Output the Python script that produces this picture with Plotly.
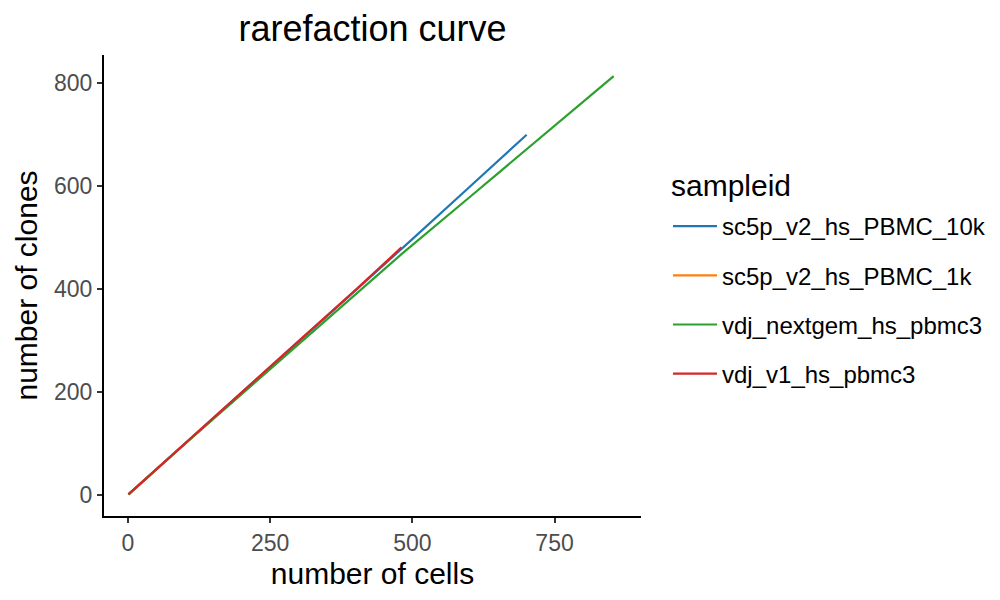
import plotly.graph_objects as go

samples = ["sc5p_v2_hs_PBMC_10k", "sc5p_v2_hs_PBMC_1k", "vdj_nextgem_hs_pbmc3", "vdj_v1_hs_pbmc3"]
colors = ["#1f77b4", "#ff7f0e", "#2ca02c", "#d62728"]

cells_10k = [1, 100, 200, 300, 400, 500, 600, 701]
clones_10k = [1, 100, 199, 298, 397, 497, 598, 700]

cells_1k = [1, 50, 100, 150]
clones_1k = [1, 50, 99, 148]

cells_nextgem = [1, 100, 200, 300, 400, 481, 600, 700, 800, 854]
clones_nextgem = [1, 99, 196, 293, 390, 468, 578, 671, 764, 814]

cells_v1 = [1, 100, 200, 300, 400, 481]
clones_v1 = [1, 100, 199, 299, 398, 481]

xs = [cells_10k, cells_1k, cells_nextgem, cells_v1]
ys = [clones_10k, clones_1k, clones_nextgem, clones_v1]

fig = go.Figure()
for name, c, x, y in zip(samples, colors, xs, ys):
    fig.add_trace(go.Scatter(x=x, y=y, mode="lines", name=name, legendgroup=name,
                             line=dict(color=c, width=2.2)))

font = "Liberation Sans, Arial, Helvetica, sans-serif"
fig.update_layout(
    width=1000, height=600,
    paper_bgcolor="white", plot_bgcolor="white",
    margin=dict(l=104, r=359, t=55, b=84, autoexpand=False),
    font=dict(family=font, color="black"),
    title=dict(text="rarefaction curve", x=(104 + 641) / 2 / 1000, xanchor="center",
               y=1 - 28 / 600, yanchor="middle", font=dict(size=36, color="black")),
    xaxis=dict(range=[-42, 902], tickvals=[0, 250, 500, 750], showgrid=False, zeroline=False,
               showline=True, linecolor="black", linewidth=2, ticks="outside", ticklen=5,
               tickcolor="#333333", tickwidth=1.5,
               tickfont=dict(size=23, color="#4d4d4d"),
               title=dict(text="number of cells", font=dict(size=30, color="black"), standoff=8)),
    yaxis=dict(range=[-41, 855], tickvals=[0, 200, 400, 600, 800], showgrid=False, zeroline=False,
               showline=True, linecolor="black", linewidth=2, ticks="outside", ticklen=5,
               tickcolor="#333333", tickwidth=1.5,
               tickfont=dict(size=23, color="#4d4d4d"),
               title=dict(text="number of clones", font=dict(size=30, color="black"), standoff=8)),
    legend=dict(x=(668 - 104) / 537, xanchor="left", y=(516 - 204) / 461, yanchor="top",
                font=dict(size=24, color="black"), tracegroupgap=15, itemwidth=44,
                bgcolor="rgba(0,0,0,0)"),
    annotations=[dict(text="sampleid", xref="paper", yref="paper",
                      x=(669 - 104) / 537, xanchor="left", y=(516 - 185) / 461, yanchor="middle",
                      showarrow=False, font=dict(size=30, color="black"))],
)

fig.write_html("out.html")
